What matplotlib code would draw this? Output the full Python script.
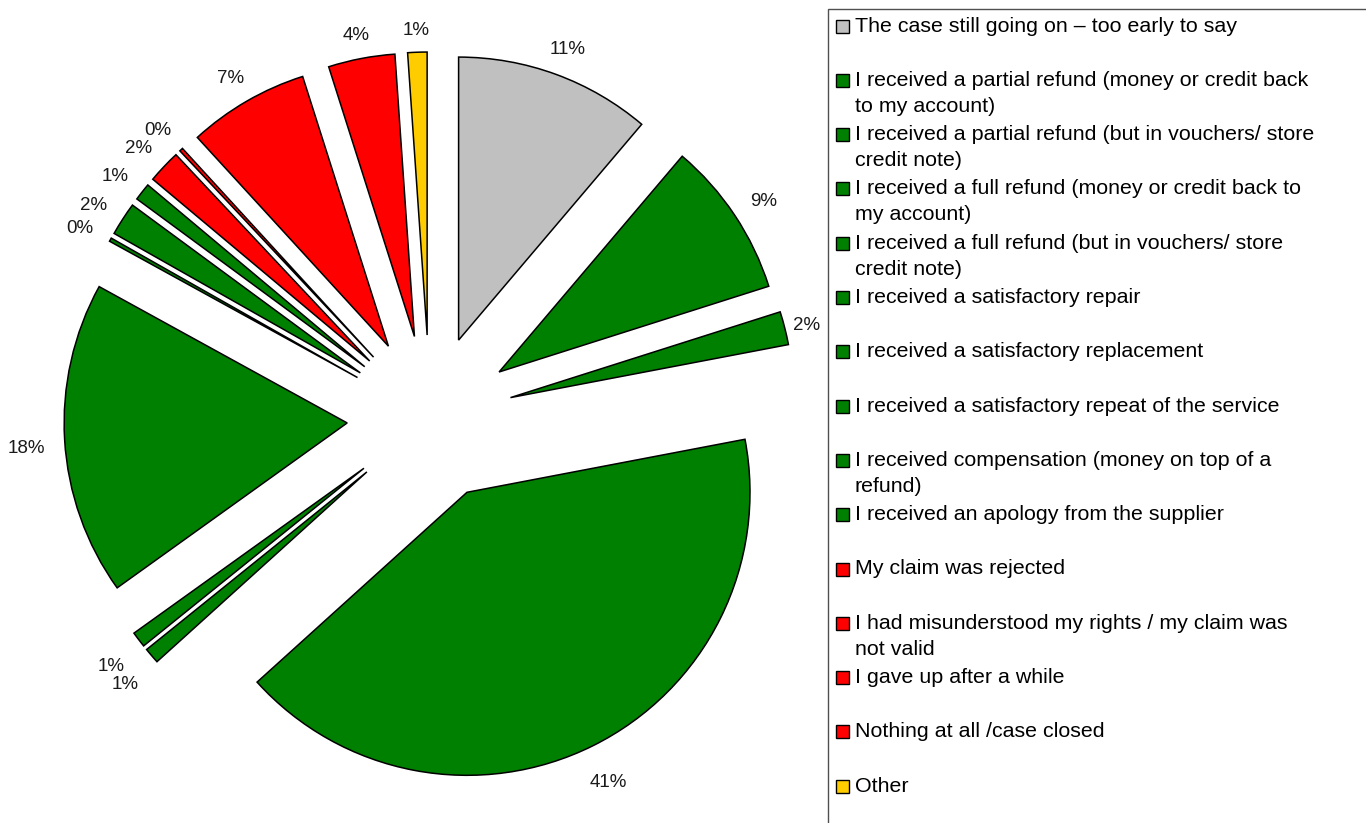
import numpy as np
import matplotlib.pyplot as plt
from matplotlib.patches import Rectangle

plt.rcParams['font.family'] = ['Liberation Sans', 'DejaVu Sans']

# Respostas (em %), na ordem da legenda
categorias = [
    "The case still going on \u2013 too early to say",
    "I received a partial refund (money or credit back\nto my account)",
    "I received a partial refund (but in vouchers/ store\ncredit note)",
    "I received a full refund (money or credit back to\nmy account)",
    "I received a full refund (but in vouchers/ store\ncredit note)",
    "I received a satisfactory repair",
    "I received a satisfactory replacement",
    "I received a satisfactory repeat of the service",
    "I received compensation (money on top of a\nrefund)",
    "I received an apology from the supplier",
    "My claim was rejected",
    "I had misunderstood my rights / my claim was\nnot valid",
    "I gave up after a while",
    "Nothing at all /case closed",
    "Other",
]
valores = [11.2, 8.9, 1.9, 41.3, 0.9, 0.9, 17.9, 0.2, 1.9, 1.0, 1.9, 0.2, 6.9, 3.8, 1.1]

cinza    = '#C0C0C0'
verde    = '#008000'
vermelho = '#FF0000'
amarelo  = '#FFCC00'
cores = [cinza] + [verde] * 9 + [vermelho] * 4 + [amarelo]

W, H = 1366, 823
fig = plt.figure(figsize=(W / 100, H / 100), dpi=100)
ax = fig.add_axes([0, 0, 1, 1])

# Pizza explodida (eixo em pixels)
raio = 283
centro = (430, H - 418)
fatias, _, rotulos = ax.pie(valores, colors=cores, explode=[83] * len(valores),
                            radius=raio, center=centro, startangle=90,
                            counterclock=False, autopct='%.0f%%',
                            wedgeprops=dict(edgecolor='black', linewidth=1.1),
                            textprops=dict(fontsize=13.5, color='#1a1a1a'))

ax.set_xlim(0, W)
ax.set_ylim(0, H)
ax.axis('off')

# Rotulos fora da borda: folga fixa + metade da caixa do texto
fig.canvas.draw()
folga = 19
for fatia, txt in zip(fatias, rotulos):
    ang = np.deg2rad((fatia.theta1 + fatia.theta2) / 2)
    ux, uy = np.cos(ang), np.sin(ang)
    bb = txt.get_window_extent()
    d = raio + folga + abs(ux) * bb.width / 2 + abs(uy) * bb.height / 2
    x = fatia.center[0] + d * ux
    y = fatia.center[1] + d * uy - 6
    x = min(x, 820 - bb.width / 2)  # nao invadir a legenda
    txt.set_position((x, y))

# Legenda desenhada a mao
x0, y_topo, passo, passo_linha = 828, 9, 54.3, 26
ax.add_patch(Rectangle((x0, -20), W + 20 - x0, H - y_topo + 20,
                       facecolor='white', edgecolor='#505050', linewidth=1.0))
for i, (cat, cor) in enumerate(zip(categorias, cores)):
    yc = H - (26 + i * passo)
    ax.add_patch(Rectangle((836, yc - 6.5), 13, 13, facecolor=cor,
                           edgecolor='black', linewidth=1.0))
    for k, linha in enumerate(cat.split('\n')):
        ax.text(855, yc - k * passo_linha, linha, fontsize=15.4,
                va='center', ha='left', color='black')

plt.savefig('out.png', dpi=100)
